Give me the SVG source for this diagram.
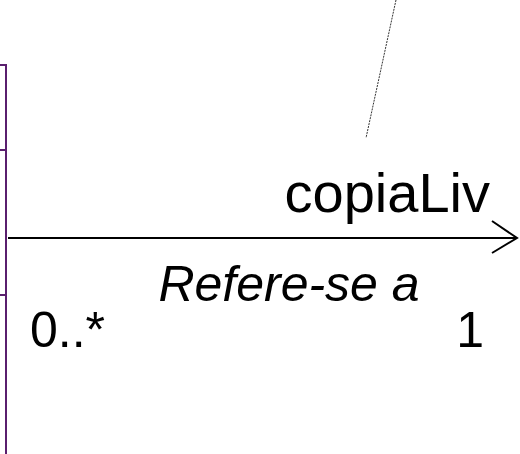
<svg xmlns="http://www.w3.org/2000/svg" width="520" height="454" viewBox="0 0 520 454">
<style>
.cls{fill:none;stroke:#5a1f6e;stroke-width:2}
.t{font-family:"Liberation Sans",Arial,sans-serif;fill:#000}
</style>
<rect width="520" height="454" fill="#fff"/>
<g id="class-node">
<path class="cls" d="M0 65 H6 V454"/>
<path class="cls" d="M0 150 H6 M0 295 H6"/>
</g>
<g id="note-link">
<line x1="396" y1="0" x2="366" y2="138" stroke="#333" stroke-width="1" stroke-dasharray="2,1"/>
</g>
<g id="connectors">
<line x1="8" y1="238" x2="516" y2="238" stroke="#000" stroke-width="2"/>
<polyline points="492,221 517,238 492,253" fill="none" stroke="#000" stroke-width="2"/>
</g>
<g id="labels">
<text class="t" x="490" y="212" font-size="56" text-anchor="end">copiaLiv</text>
<text class="t" x="289" y="301" font-size="50" font-style="italic" text-anchor="middle">Refere-se a</text>
<text class="t" x="30" y="347" font-size="50">0..*</text>
<text class="t" x="484" y="347" font-size="50" text-anchor="end">1</text>
</g>
</svg>
